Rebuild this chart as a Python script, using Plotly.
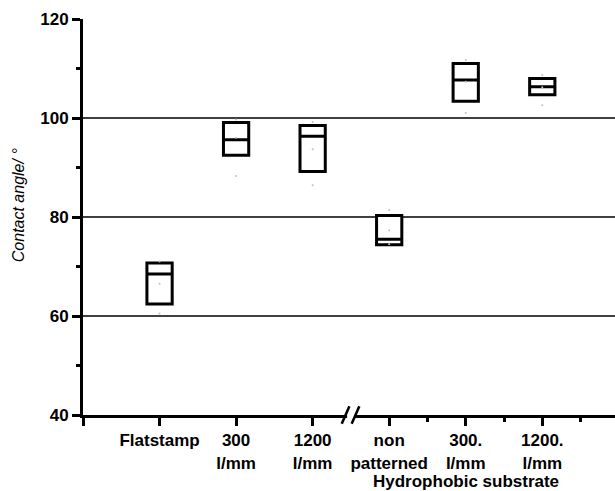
import plotly.graph_objects as go

# ---- data ----
categories = ["Flatstamp", "300<br>l/mm", "1200<br>l/mm", "non<br>patterned", "300.<br>l/mm", "1200.<br>l/mm"]
positions = [1, 2, 3, 4, 5, 6]
q1 = [62.4, 92.5, 89.2, 74.4, 103.4, 104.7]
median = [68.5, 95.6, 96.3, 75.5, 107.7, 106.3]
q3 = [70.7, 99.1, 98.5, 80.3, 111.0, 108.0]
mean_vals = [66.5, 96.0, 93.7, 77.3, 107.3, 106.2]
min_vals = [60.5, 88.3, 86.4, 74.5, 101.0, 102.6]
max_vals = [71.0, 99.7, 99.2, 81.4, 111.7, 108.7]
y_ticks = [40, 60, 80, 100, 120]
y_minor = [50, 70, 90, 110]
grid_vals = [60, 80, 100]
x_minor = [4.5, 5.5, 6.5]
break_at = 3.5

FONT = "Liberation Sans, Arial, sans-serif"

fig = go.Figure()

fig.add_trace(go.Box(
    x=positions, q1=q1, median=median, q3=q3,
    lowerfence=q1, upperfence=q3,
    width=0.33, whiskerwidth=0,
    line=dict(color="black", width=3), fillcolor="white",
    boxpoints=False, showlegend=False, hoverinfo="skip",
))

dots_x = positions * 3
dots_y = mean_vals + min_vals + max_vals
fig.add_trace(go.Scatter(
    x=dots_x, y=dots_y, mode="markers",
    marker=dict(size=2, color="#c0c0c0"), showlegend=False, hoverinfo="skip",
))

shapes = []
for g in grid_vals:
    shapes.append(dict(type="line", xref="paper", yref="y", x0=0, x1=1, y0=g, y1=g,
                       line=dict(color="black", width=1.5), layer="below"))
# axis break
shapes.append(dict(type="rect", xref="x", yref="paper", x0=break_at - 0.05, x1=break_at + 0.05,
                   y0=-0.012, y1=0.012, fillcolor="white", line=dict(width=0), layer="above"))
for dx in (-0.07, 0.06):
    shapes.append(dict(type="line", xref="x", yref="paper",
                       x0=break_at + dx - 0.05, x1=break_at + dx + 0.05, y0=-0.022, y1=0.022,
                       line=dict(color="black", width=2.5), layer="above"))

fig.update_layout(
    width=615, height=491,
    margin=dict(l=83, r=0, t=19, b=76),
    paper_bgcolor="white", plot_bgcolor="white",
    boxmode="overlay",
    shapes=shapes,
    xaxis=dict(
        range=[0, 6.95], tickmode="array", tickvals=[0] + positions, ticktext=[""] + categories,
        ticks="outside", ticklen=8, tickwidth=3, tickcolor="black",
        showline=True, linewidth=3, linecolor="black", showgrid=False, zeroline=False,
        tickfont=dict(family=FONT, size=17, color="black", weight="bold"),
        minor=dict(tickmode="array", tickvals=x_minor, ticks="outside", ticklen=4, tickwidth=3,
                   tickcolor="black", showgrid=False),
    ),
    yaxis=dict(
        range=[40, 120], tickmode="array", tickvals=y_ticks,
        ticks="outside", ticklen=8, tickwidth=3, tickcolor="black",
        showline=True, linewidth=3, linecolor="black", showgrid=False, zeroline=False,
        tickfont=dict(family=FONT, size=17, color="black", weight="bold"),
        minor=dict(tickmode="array", tickvals=y_minor, ticks="outside", ticklen=4, tickwidth=3,
                   tickcolor="black", showgrid=False),
    ),
    annotations=[
        dict(text="Contact angle/ °", xref="paper", yref="paper", x=-0.122, y=0.53,
             textangle=-90, showarrow=False, xanchor="center", yanchor="middle",
             font=dict(family=FONT, size=16, color="black", style="italic")),
        dict(text="Hydrophobic substrate", xref="x", yref="paper", x=5, y=-0.168,
             showarrow=False, xanchor="center", yanchor="middle",
             font=dict(family=FONT, size=17, color="black", weight="bold")),
    ],
)

fig.write_html("out.html")
